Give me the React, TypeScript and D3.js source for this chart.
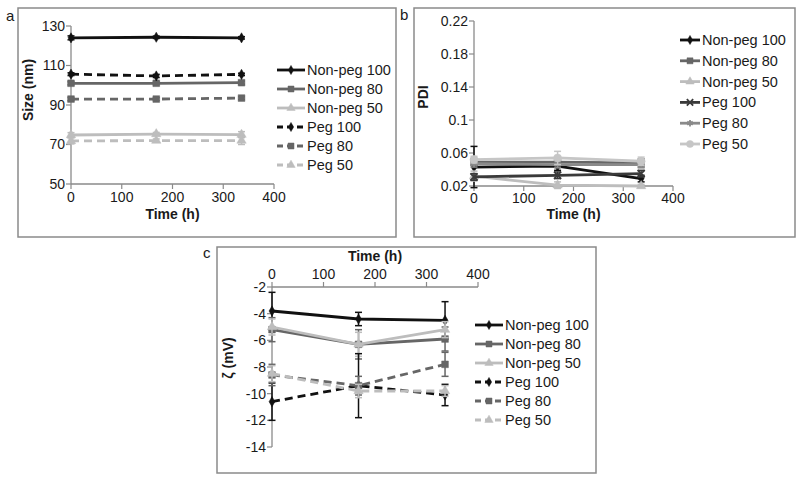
import React from "react";
import * as d3 from "d3";

// ---------- data ----------
const timesH = [0, 168, 336];
const seriesLabels = ["Non-peg 100", "Non-peg 80", "Non-peg 50", "Peg 100", "Peg 80", "Peg 50"];
const xTicks = [0, 100, 200, 300, 400];

// Panel a: Size (nm)
const sizeNonPeg100 = [124, 124.3, 124];
const sizeNonPeg80 = [101, 101, 101.3];
const sizeNonPeg50 = [74.8, 75.3, 75];
const sizePeg100 = [105.6, 104.7, 105.5];
const sizePeg80 = [93, 93, 93.5];
const sizePeg50 = [71.8, 72, 72];
const sizeErr = [
  [1, 0.6, 0.6],
  [0.8, 0.8, 0.8],
  [1.2, 0.8, 1.5],
  [0.7, 0.8, 0.6],
  [0.8, 0.7, 0.7],
  [1.5, 0.8, 2],
];
const sizeTicks = [50, 70, 90, 110, 130];

// Panel b: PDI
const pdiNonPeg100 = [0.043, 0.044, 0.029];
const pdiNonPeg80 = [0.049, 0.049, 0.048];
const pdiNonPeg50 = [0.032, 0.021, 0.02];
const pdiPeg100 = [0.031, 0.033, 0.035];
const pdiPeg80 = [0.047, 0.046, 0.046];
const pdiPeg50 = [0.052, 0.054, 0.05];
const pdiErr = [
  [0.025, 0.005, 0.004],
  [0.004, 0.004, 0.005],
  [0.006, 0.004, 0.002],
  [0.004, 0.004, 0.004],
  [0.004, 0.004, 0.004],
  [0.004, 0.008, 0.005],
];
const pdiTicks = [0.02, 0.06, 0.1, 0.14, 0.18, 0.22];
const pdiTickLabels = ["0.02", "0.06", "0.1", "0.14", "0.18", "0.22"];

// Panel c: zeta potential (mV)
const zetaNonPeg100 = [-3.8, -4.4, -4.5];
const zetaNonPeg80 = [-5.2, -6.3, -5.9];
const zetaNonPeg50 = [-5.0, -6.3, -5.2];
const zetaPeg100 = [-10.6, -9.4, -10.1];
const zetaPeg80 = [-8.6, -9.4, -7.8];
const zetaPeg50 = [-8.5, -9.8, -9.8];
const zetaErr = [
  [1.4, 0.5, 1.4],
  [0.9, 1.1, 0.9],
  [0.6, 0.9, 0.6],
  [1.4, 2.4, 0.8],
  [0.8, 0.7, 0.9],
  [0.6, 0.5, 0.4],
];
const zetaTicks = [-2, -4, -6, -8, -10, -12, -14];

// ---------- styles ----------
const FONT = "'Liberation Sans', Arial, Helvetica, sans-serif";
const AXIS = "#8a8a8a";
const BLACK = "#111";
const DARK = "#666";
const LIGHT = "#bdbdbd";
const TEXT = "#1a1a1a";

type Style = { color: string; dashed: boolean; symbol: any; size: number; fill: boolean };

const styleA: Style[] = [
  { color: BLACK, dashed: false, symbol: d3.symbolDiamond, size: 30, fill: true },
  { color: DARK, dashed: false, symbol: d3.symbolSquare, size: 45, fill: true },
  { color: LIGHT, dashed: false, symbol: d3.symbolTriangle, size: 38, fill: true },
  { color: BLACK, dashed: true, symbol: d3.symbolDiamond, size: 30, fill: true },
  { color: DARK, dashed: true, symbol: d3.symbolSquare, size: 45, fill: true },
  { color: LIGHT, dashed: true, symbol: d3.symbolTriangle, size: 38, fill: true },
];
const styleB: Style[] = [
  { color: BLACK, dashed: false, symbol: d3.symbolDiamond, size: 30, fill: true },
  { color: DARK, dashed: false, symbol: d3.symbolSquare, size: 45, fill: true },
  { color: LIGHT, dashed: false, symbol: d3.symbolTriangle, size: 38, fill: true },
  { color: "#3a3a3a", dashed: false, symbol: d3.symbolTimes, size: 35, fill: false },
  { color: "#8a8a8a", dashed: false, symbol: d3.symbolAsterisk, size: 35, fill: false },
  { color: "#c6c6c6", dashed: false, symbol: d3.symbolCircle, size: 50, fill: true },
];

type PanelCfg = {
  frame: [number, number, number, number];
  label: string;
  labelPos: [number, number];
  xRange: [number, number];
  yDomain: [number, number];
  yRange: [number, number];
  yTicks: number[];
  yTickLabels: string[];
  yTitle: string;
  yTitlePos: [number, number];
  xTop: boolean;
  xLabelY: number;
  xTitleY: number;
  series: number[][];
  errs: number[][];
  styles: Style[];
  legend: { x: number; y0: number; dy: number; len: number };
};

function Panel({ cfg }: { cfg: PanelCfg }) {
  const x = d3.scaleLinear().domain([0, 400]).range(cfg.xRange);
  const y = d3.scaleLinear().domain(cfg.yDomain).range(cfg.yRange);
  const xAxisY = cfg.xTop ? y(cfg.yDomain[1]) : y(cfg.yDomain[0]);
  const line = d3
    .line<number>()
    .x((_, i) => x(timesH[i]))
    .y((d) => y(d));
  const [fx, fy, fw, fh] = cfg.frame;
  const tickDir = cfg.xTop ? -1 : 1;
  return (
    <g fontFamily={FONT}>
      <rect x={fx} y={fy} width={fw} height={fh} fill="#fff" stroke={AXIS} strokeWidth={1.5} />
      <text x={cfg.labelPos[0]} y={cfg.labelPos[1]} fontSize={15} fill={TEXT}>
        {cfg.label}
      </text>
      {/* y axis */}
      <line x1={x(0)} x2={x(0)} y1={cfg.yRange[0]} y2={cfg.yRange[1]} stroke={AXIS} strokeWidth={1.3} />
      {cfg.yTicks.map((t, i) => (
        <g key={"yt" + i}>
          <line x1={x(0) - 5} x2={x(0)} y1={y(t)} y2={y(t)} stroke={AXIS} strokeWidth={1.2} />
          <text x={x(0) - 6} y={y(t)} dy="0.35em" textAnchor="end" fontSize={14} fill={TEXT}>
            {cfg.yTickLabels[i]}
          </text>
        </g>
      ))}
      {/* x axis */}
      <line x1={x(0)} x2={x(400)} y1={xAxisY} y2={xAxisY} stroke={AXIS} strokeWidth={1.3} />
      {xTicks.map((t) => (
        <g key={"xt" + t}>
          <line x1={x(t)} x2={x(t)} y1={xAxisY} y2={xAxisY + 5 * tickDir} stroke={AXIS} strokeWidth={1.2} />
          <text x={x(t)} y={cfg.xLabelY} dy="0.35em" textAnchor="middle" fontSize={14} fill={TEXT}>
            {t}
          </text>
        </g>
      ))}
      <text
        x={(x(0) + x(400)) / 2}
        y={cfg.xTitleY}
        dy="0.35em"
        textAnchor="middle"
        fontSize={14}
        fontWeight="bold"
        fill={TEXT}
      >
        Time (h)
      </text>
      <text
        transform={`translate(${cfg.yTitlePos[0]},${cfg.yTitlePos[1]}) rotate(-90)`}
        dy="0.35em"
        textAnchor="middle"
        fontSize={14}
        fontWeight="bold"
        fill={TEXT}
      >
        {cfg.yTitle}
      </text>
      {/* series */}
      {cfg.series.map((vals, si) => {
        const st = cfg.styles[si];
        const sym = d3.symbol().type(st.symbol).size(st.size)();
        return (
          <g key={"s" + si}>
            {vals.map((v, i) => {
              const e = cfg.errs[si][i];
              const cx = x(timesH[i]);
              return (
                <g key={"e" + i} stroke={st.color} strokeWidth={1.5}>
                  <line x1={cx} x2={cx} y1={y(v - e)} y2={y(v + e)} />
                  <line x1={cx - 3.5} x2={cx + 3.5} y1={y(v - e)} y2={y(v - e)} />
                  <line x1={cx - 3.5} x2={cx + 3.5} y1={y(v + e)} y2={y(v + e)} />
                </g>
              );
            })}
            <path
              d={line(vals) || ""}
              fill="none"
              stroke={st.color}
              strokeWidth={2.8}
              strokeDasharray={st.dashed ? "8,5" : undefined}
            />
            {vals.map((v, i) => (
              <path
                key={"m" + i}
                d={sym || ""}
                transform={`translate(${x(timesH[i])},${y(v)})`}
                fill={st.fill ? st.color : "none"}
                stroke={st.color}
                strokeWidth={st.fill ? 0.5 : 1.8}
              />
            ))}
          </g>
        );
      })}
      {/* legend */}
      {seriesLabels.map((lab, i) => {
        const st = cfg.styles[i];
        const ly = cfg.legend.y0 + i * cfg.legend.dy;
        const lx = cfg.legend.x;
        const len = cfg.legend.len;
        const sym = d3.symbol().type(st.symbol).size(st.size * 0.8)();
        return (
          <g key={"l" + i}>
            <line
              x1={lx}
              x2={lx + len}
              y1={ly}
              y2={ly}
              stroke={st.color}
              strokeWidth={2.8}
              strokeDasharray={st.dashed ? "6,4" : undefined}
            />
            <path
              d={sym || ""}
              transform={`translate(${lx + len / 2},${ly})`}
              fill={st.fill ? st.color : "none"}
              stroke={st.color}
              strokeWidth={st.fill ? 0.5 : 1.8}
            />
            <text x={lx + len + 2} y={ly} dy="0.35em" fontSize={14.5} fill={TEXT}>
              {lab}
            </text>
          </g>
        );
      })}
    </g>
  );
}

const panelA: PanelCfg = {
  frame: [18, 8, 378, 229],
  label: "a",
  labelPos: [6, 21],
  xRange: [71, 274],
  yDomain: [50, 130],
  yRange: [184, 26],
  yTicks: sizeTicks,
  yTickLabels: sizeTicks.map(String),
  yTitle: "Size (nm)",
  yTitlePos: [28, 90],
  xTop: false,
  xLabelY: 197,
  xTitleY: 214,
  series: [sizeNonPeg100, sizeNonPeg80, sizeNonPeg50, sizePeg100, sizePeg80, sizePeg50],
  errs: sizeErr,
  styles: styleA,
  legend: { x: 277, y0: 70, dy: 19, len: 28 },
};

const panelB: PanelCfg = {
  frame: [414, 8, 381, 229],
  label: "b",
  labelPos: [400, 20],
  xRange: [474, 673],
  yDomain: [0.02, 0.22],
  yRange: [186, 21],
  yTicks: pdiTicks,
  yTickLabels: pdiTickLabels,
  yTitle: "PDI",
  yTitlePos: [423, 97],
  xTop: false,
  xLabelY: 198,
  xTitleY: 214,
  series: [pdiNonPeg100, pdiNonPeg80, pdiNonPeg50, pdiPeg100, pdiPeg80, pdiPeg50],
  errs: pdiErr,
  styles: styleB,
  legend: { x: 680, y0: 40, dy: 20.8, len: 20 },
};

const panelC: PanelCfg = {
  frame: [217, 247, 379, 226],
  label: "c",
  labelPos: [203, 258],
  xRange: [272, 478],
  yDomain: [-14, -2],
  yRange: [447, 287],
  yTicks: zetaTicks,
  yTickLabels: zetaTicks.map(String),
  yTitle: "ζ (mV)",
  yTitlePos: [228, 358],
  xTop: true,
  xLabelY: 274,
  xTitleY: 256,
  series: [zetaNonPeg100, zetaNonPeg80, zetaNonPeg50, zetaPeg100, zetaPeg80, zetaPeg50],
  errs: zetaErr,
  styles: styleA,
  legend: { x: 475, y0: 325, dy: 19, len: 28 },
};

export default function App() {
  return (
    <svg
      width={800}
      height={486}
      style={{ position: "absolute", left: 0, top: 0, background: "#fff" }}
    >
      <rect x={0} y={0} width={800} height={486} fill="#fff" />
      <Panel cfg={panelA} />
      <Panel cfg={panelB} />
      <Panel cfg={panelC} />
    </svg>
  );
}
